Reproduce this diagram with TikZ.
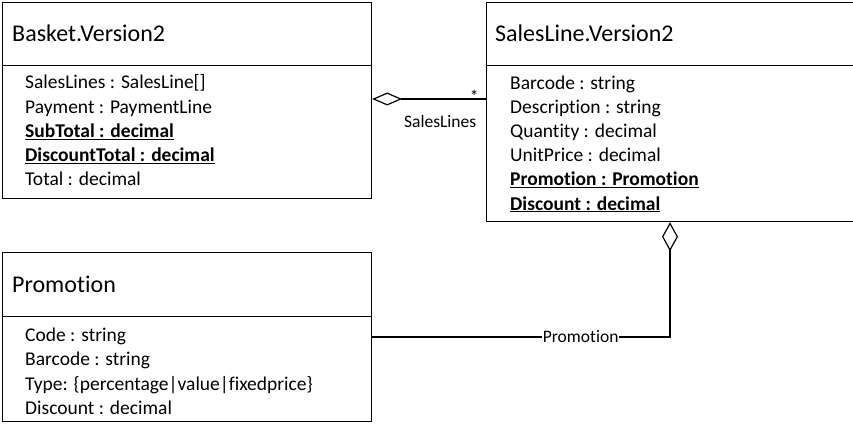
\documentclass[tikz,border=0pt]{standalone}
\usepackage{fontspec}
\setmainfont{Carlito}[Ligatures={NoCommon,NoContextual}]
\usetikzlibrary{arrows.meta,calc}
\begin{document}
\begin{tikzpicture}[x=1pt,y=-1pt,
  frame/.style={draw, line width=1.2pt, anchor=north west, inner sep=0pt},
  classtitle/.style={anchor=base west, inner sep=0pt, font=\fontsize{24}{28}\selectfont},
  attr/.style={anchor=base west, inner sep=0pt, font=\fontsize{19.5}{24}\selectfont},
  lbl/.style={font=\fontsize{17.5}{21}\selectfont, inner sep=1pt},
  assoc/.style={line width=1.2pt},
  agg/.style={{Diamond[open,length=30pt,width=13pt,line width=1.2pt]}-}
]
\useasboundingbox (0,0) rectangle (853,425);
\clip (0,0) rectangle (853,425);

% Basket.Version2
\node[frame, minimum width=369pt, minimum height=63pt] (basketHead) at (2,2) {};
\node[frame, minimum width=369pt, minimum height=133pt] (basketBody) at (2,65) {};
\node[classtitle] (basketTitle) at ($(basketHead.north west)+(10,40)$) {Basket.Version2};
\foreach \t [count=\i] in {SalesLines : SalesLine[], Payment : PaymentLine,
    \underline{\textbf{SubTotal : decimal}}, \underline{\textbf{DiscountTotal : decimal}},
    Total : decimal}
  \node[attr] (basketAttr\i) at ($(basketBody.north west)+(23,{24+24.1*(\i-1)})$) {\t};

% SalesLine.Version2 (runs past the right edge)
\node[frame, minimum width=374pt, minimum height=63pt] (salesHead) at (486,2) {};
\node[frame, minimum width=374pt, minimum height=156pt] (salesBody) at (486,65) {};
\node[classtitle] (salesTitle) at ($(salesHead.north west)+(9,40)$) {SalesLine.Version2};
\foreach \t [count=\i] in {Barcode : string, Description : string, Quantity : decimal,
    UnitPrice : decimal, \underline{\textbf{Promotion : Promotion}},
    \underline{\textbf{Discount : decimal}}}
  \node[attr] (salesAttr\i) at ($(salesBody.north west)+(24,{24.5+24.1*(\i-1)})$) {\t};

% Promotion
\node[frame, minimum width=369pt, minimum height=64pt] (promoHead) at (2,252) {};
\node[frame, minimum width=369pt, minimum height=105pt] (promoBody) at (2,316) {};
\node[classtitle] (promoTitle) at ($(promoHead.north west)+(10,40)$) {Promotion};
\foreach \t [count=\i] in {Code : string, Barcode : string,
    Type: \{percentage|value|fixedprice\}, Discount : decimal}
  \node[attr] (promoAttr\i) at ($(promoBody.north west)+(23,{25.5+24.4*(\i-1)})$) {\t};

% Basket aggregates SalesLines
\coordinate (aggA) at ($(basketBody.north east)+(0,34)$);
\draw[assoc, agg] (aggA) -- (salesBody.west |- aggA);
\node[lbl, anchor=base] (multA) at ($(aggA)+(102,3.5)$) {*};
\node[lbl, anchor=base] (roleA) at ($(aggA)+(68,29)$) {SalesLines};

% SalesLine aggregates Promotion
\coordinate (promoTurn) at (670,337);
\draw[assoc, {Diamond[open,length=29pt,width=16pt,line width=1.2pt]}-]
  (salesBody.south -| promoTurn) -- (promoTurn)
  -- node[lbl, fill=white, pos=0.3] (roleB) {Promotion} (promoBody.east |- promoTurn);
\end{tikzpicture}
\end{document}
